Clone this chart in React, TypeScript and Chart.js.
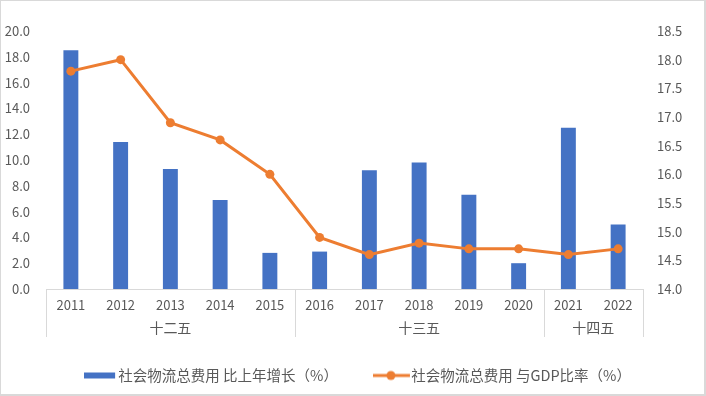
import { useEffect, useRef } from 'react';
import { Chart, registerables } from 'chart.js';

Chart.register(...registerables);

const years = ['2011', '2012', '2013', '2014', '2015', '2016', '2017', '2018', '2019', '2020', '2021', '2022'];
const growth = [18.5, 11.4, 9.3, 6.9, 2.8, 2.9, 9.2, 9.8, 7.3, 2.0, 12.5, 5.0];
const ratio = [17.8, 18.0, 16.9, 16.6, 16.0, 14.9, 14.6, 14.8, 14.7, 14.7, 14.6, 14.7];
const groupLabels = ['十二五', '十三五', '十四五'];
const groupSizes = [5, 5, 2];
const barLabel = '社会物流总费用 比上年增长（%）';
const lineLabel = '社会物流总费用 与GDP比率（%）';

const BLUE = '#4472C4';
const ORANGE = '#ED7D31';
const TEXT = '#595959';
const AXIS = '#D9D9D9';
const FONT = "'Noto Sans CJK SC', 'Noto Sans', sans-serif";

function makeBarIcon() {
  const c = document.createElement('canvas');
  c.width = 34;
  c.height = 8;
  const g = c.getContext('2d')!;
  g.fillStyle = BLUE;
  g.fillRect(0, 1, 31, 6);
  return c;
}

function makeLineIcon() {
  const c = document.createElement('canvas');
  c.width = 42;
  c.height = 12;
  const g = c.getContext('2d')!;
  g.strokeStyle = ORANGE;
  g.lineWidth = 3;
  g.beginPath();
  g.moveTo(0, 6);
  g.lineTo(37, 6);
  g.stroke();
  g.fillStyle = ORANGE;
  g.beginPath();
  g.arc(18, 6, 4.5, 0, Math.PI * 2);
  g.fill();
  return c;
}

const legendShiftPlugin = {
  id: 'legendShift',
  afterLayout(chart: any) {
    const l = chart.legend;
    if (l) {
      l.left += 8;
      l.right += 8;
    }
  },
};

const groupPlugin = {
  id: 'groupAxis',
  afterDraw(chart: any) {
    const { ctx, chartArea } = chart;
    const x = chart.scales.x;
    const step = x.getPixelForValue(1) - x.getPixelForValue(0);
    ctx.save();
    ctx.strokeStyle = AXIS;
    ctx.lineWidth = 1;
    ctx.fillStyle = TEXT;
    ctx.font = `14px ${FONT}`;
    ctx.textAlign = 'center';
    ctx.textBaseline = 'middle';
    let start = 0;
    const bottom = chartArea.bottom + 48;
    const drawSep = (px: number) => {
      const xx = Math.round(px) + 0.5;
      ctx.beginPath();
      ctx.moveTo(xx, chartArea.bottom);
      ctx.lineTo(xx, bottom);
      ctx.stroke();
    };
    drawSep(x.getPixelForValue(0) - step / 2);
    groupSizes.forEach((size, i) => {
      const end = start + size - 1;
      const left = x.getPixelForValue(start) - step / 2;
      const right = x.getPixelForValue(end) + step / 2;
      drawSep(right);
      ctx.fillText(groupLabels[i], (left + right) / 2, chartArea.bottom + 39);
      start += size;
    });
    ctx.restore();
  },
};

const framePlugin = {
  id: 'frame',
  afterDraw(chart: any) {
    const { ctx, width, height } = chart;
    ctx.save();
    ctx.fillStyle = AXIS;
    ctx.fillRect(0, 0, width, 1);
    ctx.fillRect(0, 0, 1, height);
    ctx.fillRect(width - 2, 0, 2, height);
    ctx.fillRect(0, height - 2, width, 2);
    ctx.restore();
  },
};

export default function App() {
  const ref = useRef<HTMLCanvasElement>(null);

  useEffect(() => {
    if (!ref.current) return;
    const icons = [makeBarIcon(), makeLineIcon()];
    const chart = new Chart(ref.current, {
      type: 'bar',
      data: {
        labels: years,
        datasets: [
          {
            type: 'bar',
            label: barLabel,
            data: growth,
            backgroundColor: BLUE,
            borderWidth: 0,
            barPercentage: 0.6,
            categoryPercentage: 0.5,
            yAxisID: 'y',
            order: 1,
          },
          {
            type: 'line',
            label: lineLabel,
            data: ratio,
            borderColor: ORANGE,
            backgroundColor: ORANGE,
            borderWidth: 3,
            pointRadius: 4.5,
            pointBackgroundColor: ORANGE,
            pointBorderWidth: 0,
            tension: 0,
            yAxisID: 'y1',
            order: 0,
          } as any,
        ],
      },
      options: {
        responsive: false,
        animation: false,
        layout: { padding: { top: 31, bottom: 3.25, left: 0, right: 0 } },
        font: { family: FONT },
        plugins: {
          tooltip: { enabled: false },
          legend: {
            position: 'bottom',
            labels: {
              usePointStyle: true,
              pointStyleWidth: 20,
              padding: 46,
              color: TEXT,
              font: { size: 14.5, family: FONT },
              generateLabels: (c: any) =>
                c.data.datasets.map((ds: any, i: number) => ({
                  text: ds.label,
                  pointStyle: icons[i],
                  fillStyle: 'rgba(0,0,0,0)',
                  strokeStyle: 'rgba(0,0,0,0)',
                  lineWidth: 0,
                  fontColor: TEXT,
                  hidden: !c.isDatasetVisible(i),
                  datasetIndex: i,
                })),
            },
          },
        },
        scales: {
          x: {
            type: 'category',
            offset: true,
            grid: { display: false, drawTicks: false },
            border: { display: true, color: AXIS, width: 1 },
            ticks: { color: TEXT, font: { size: 13, family: FONT }, padding: 8, maxRotation: 0, autoSkip: false },
            afterFit: (s: any) => {
              s.height = 33.25;
            },
          },
          y: {
            position: 'left',
            min: 0,
            max: 20,
            grid: { display: false, drawTicks: false },
            border: { display: false },
            ticks: {
              stepSize: 2,
              color: TEXT,
              font: { size: 13, family: FONT },
              padding: 16,
              callback: (v: any) => Number(v).toFixed(1),
            },
            afterFit: (s: any) => {
              s.width = 46;
            },
          },
          y1: {
            position: 'right',
            min: 14,
            max: 18.5,
            grid: { display: false, drawTicks: false },
            border: { display: false },
            ticks: {
              stepSize: 0.5,
              color: TEXT,
              font: { size: 13, family: FONT },
              padding: 14,
              callback: (v: any) => Number(v).toFixed(1),
            },
            afterFit: (s: any) => {
              s.width = 63;
            },
          },
        },
      },
      plugins: [legendShiftPlugin, groupPlugin, framePlugin],
    });
    return () => chart.destroy();
  }, []);

  return (
    <div style={{ position: 'absolute', left: 0, top: 0, width: 706, height: 396, background: '#fff' }}>
      <canvas ref={ref} width={706} height={396} style={{ display: 'block' }} />
    </div>
  );
}
